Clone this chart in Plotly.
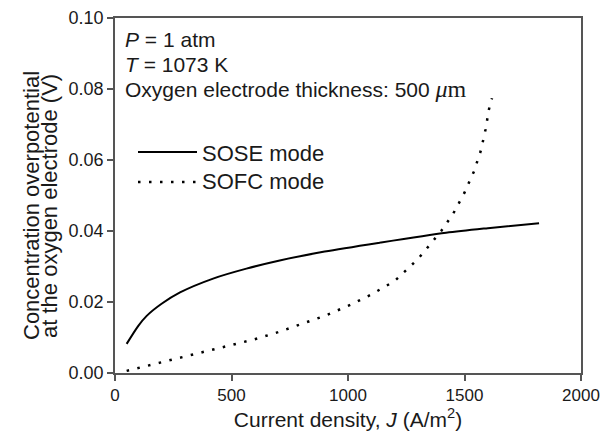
import plotly.graph_objects as go

# ---- data ----
sose_j = [50, 100, 136, 200, 279, 421, 564, 707, 900, 1136, 1421, 1600, 1820]
sose_eta = [0.0082, 0.0133, 0.0161, 0.0195, 0.0227, 0.0266, 0.0294, 0.0317,
            0.0342, 0.0367, 0.0395, 0.0408, 0.0422]

sofc_j = [50, 100, 200, 300, 400, 500, 600, 700, 800, 900, 1000, 1100, 1200,
          1300, 1350, 1400, 1450, 1500, 1540, 1570, 1590, 1605, 1618]
sofc_eta = [0.0006, 0.0014, 0.0030, 0.0045, 0.0061, 0.0077, 0.0095, 0.0115,
            0.0137, 0.0161, 0.0189, 0.0221, 0.0259, 0.0321, 0.0360, 0.0400,
            0.0447, 0.0508, 0.0567, 0.0626, 0.0685, 0.0743, 0.0774]

x_ticks = [0, 500, 1000, 1500, 2000]
y_ticks = [0.00, 0.02, 0.04, 0.06, 0.08, 0.10]

series_names = ["SOSE mode", "SOFC mode"]
info_lines = ["<i>P</i> = 1 atm", "<i>T</i> = 1073 K",
              "Oxygen electrode thickness: 500 "
              "<span style='font-family:Liberation Serif;font-size:24px'><i>μ</i>m</span>"]
y_title_lines = ["Concentration overpotential", "at the oxygen electrode (V)"]

FONT = "Liberation Sans, Arial, sans-serif"
TXT = "#1a1a1a"
AX = "#555555"

# page body has an 8px default margin; size the figure so the whole view is 609x434
OFF = 8
W, H = 609 - OFF, 434 - OFF
# plot area in screen pixels
X0, X1, Y0, Y1 = 115, 581, 18, 373
L, R, T, B = X0 - OFF, 609 - X1, Y0 - OFF, 434 - Y1


def px(xp):
    return (xp - X0) / (X1 - X0)


def py(yp):
    return (Y1 - yp) / (Y1 - Y0)


fig = go.Figure()
fig.add_trace(go.Scatter(x=sose_j, y=sose_eta, mode="lines", name=series_names[0],
                         line=dict(color="black", width=2, shape="spline", smoothing=0.8),
                         showlegend=False))
fig.add_trace(go.Scatter(x=sofc_j, y=sofc_eta, mode="lines", name=series_names[1],
                         line=dict(color="black", width=2.5, dash="2.5px,8.5px"),
                         showlegend=False))

annotations = []
for txt, yc in zip(info_lines, [39, 64, 89]):
    annotations.append(dict(text=txt, xref="paper", yref="paper", x=px(123), y=py(yc),
                            xanchor="left", yanchor="middle", showarrow=False,
                            font=dict(family=FONT, size=21, color=TXT)))

# legend (custom)
for name, yc in zip(series_names, [153, 181]):
    annotations.append(dict(text=name, xref="paper", yref="paper", x=px(200), y=py(yc),
                            xanchor="left", yanchor="middle", showarrow=False,
                            font=dict(family=FONT, size=22, color=TXT)))

# y-axis title as two rotated lines
for txt, xc in zip(y_title_lines, [31, 49]):
    annotations.append(dict(text=txt, xref="paper", yref="paper", x=px(xc), y=py(206),
                            xanchor="center", yanchor="middle", textangle=-90,
                            showarrow=False, font=dict(family=FONT, size=22, color=TXT)))

shapes = [
    dict(type="line", xref="paper", yref="paper", x0=px(138), x1=px(197), y0=py(152), y1=py(152),
         line=dict(color="black", width=2)),
    dict(type="line", xref="paper", yref="paper", x0=px(138), x1=px(197), y0=py(182), y1=py(182),
         line=dict(color="black", width=2.5, dash="2.5px,8.5px")),
]

fig.update_layout(
    width=W, height=H,
    margin=dict(l=L, r=R, t=T, b=B, pad=0, autoexpand=False),
    paper_bgcolor="white", plot_bgcolor="white",
    font=dict(family=FONT, size=18, color=TXT),
    annotations=annotations, shapes=shapes,
    xaxis=dict(range=[0, 2000], tickvals=x_ticks, ticktext=[str(v) for v in x_ticks],
               showgrid=False, zeroline=False, showline=True, linecolor=AX, linewidth=1.5,
               mirror=True, ticks="outside", ticklen=6, tickwidth=1.5, tickcolor=AX,
               tickfont=dict(size=17, color=TXT), automargin=False,
               title=dict(text="Current density, <i>J</i> (A/m<sup>2</sup>)",
                          font=dict(size=21, color=TXT), standoff=3)),
    yaxis=dict(range=[0, 0.10], tickvals=y_ticks, ticktext=[f"{v:.2f}" for v in y_ticks],
               showgrid=False, zeroline=False, showline=True, linecolor=AX, linewidth=1.5,
               mirror=True, ticks="outside", ticklen=6, tickwidth=1.5, tickcolor=AX,
               tickfont=dict(size=18, color=TXT), automargin=False),
)

fig.write_html("out.html")
